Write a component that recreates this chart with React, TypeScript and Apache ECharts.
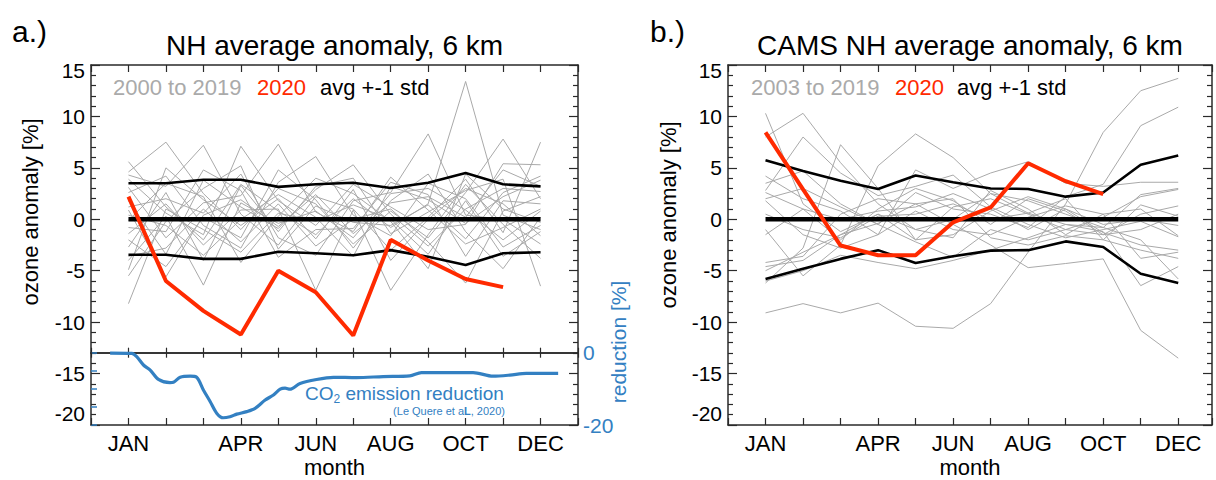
import React, { useEffect, useRef } from "react";
import * as echarts from "echarts";

const FONT = "'Liberation Sans', Arial, Helvetica, sans-serif";
const GRAY = "#a9a9a9";
const RED = "#ff2a00";
const BLUE = "#3380c2";
const FRAME = "#2a2a2a";

const months = [1, 2, 3, 4, 5, 6, 7, 8, 9, 10, 11, 12];
const monthLabelPos = [1, 4, 6, 8, 10, 12];
const monthLabels = ["JAN", "APR", "JUN", "AUG", "OCT", "DEC"];
const yMajorTicks = [-20, -15, -10, -5, 0, 5, 10, 15];

// ---- a.) NH average anomaly, 6 km (2000-2019 years)
const leftYears = [
  [5.6, 1.2, -2.0, 3.4, 0.8, -1.5, 2.0, -0.8, 1.5, 13.4, 0.4, -1.0],
  [4.6, 7.5, 2.5, -1.0, 3.0, 1.5, -2.4, 0.8, -1.8, 2.6, 7.8, 2.0],
  [4.3, 3.2, 7.2, 0.5, -2.5, 2.2, 1.0, -3.0, 0.2, 3.9, -1.3, 7.5],
  [3.9, 0.6, -1.5, 7.1, 1.8, -0.6, 3.4, 1.2, -1.0, -0.5, 5.4, 5.3],
  [3.1, -1.8, 1.6, 2.3, 7.3, 0.7, -1.2, 4.1, 0.9, -2.4, -0.8, 1.0],
  [2.6, 4.2, -0.6, -2.8, 3.6, 6.1, 0.4, -1.6, 3.5, 2.0, -2.7, -0.6],
  [1.8, -3.4, 3.8, 1.2, -0.9, 2.9, 5.3, 0.5, -2.6, 1.0, 3.0, 2.7],
  [1.2, 2.0, 0.6, 4.4, -1.8, -3.5, 1.8, 2.6, 8.3, 0.4, 0.0, -2.4],
  [0.4, -0.6, -3.5, 0.0, 2.4, 0.2, -3.6, 3.2, 1.9, -0.4, 2.2, 3.8],
  [-0.1, 3.5, 2.2, -4.2, 0.3, 4.0, 2.5, -0.2, -4.8, 4.4, 1.0, -0.3],
  [-0.8, -1.2, 4.8, 2.8, -3.7, -1.0, -0.9, 3.6, 2.4, -3.6, 1.8, 1.5],
  [-1.4, 1.5, -2.5, 0.9, 1.0, -6.9, 0.9, -6.9, -1.5, 3.4, -0.5, -3.8],
  [-2.0, -4.6, 0.2, -1.8, 4.8, 1.9, -2.8, 1.8, 4.4, -1.2, -4.8, 0.2],
  [-2.7, 2.6, -4.0, 3.3, -1.2, 3.2, 4.0, -1.4, 0.7, 2.8, 3.9, -6.5],
  [-3.6, -2.8, 1.0, -2.2, 1.5, -2.6, 0.0, 1.0, -2.2, -6.2, 0.8, 2.2],
  [-4.0, 0.3, -6.4, 1.6, -0.4, 0.8, -1.8, 2.5, 3.0, 0.9, -2.0, 0.8],
  [-4.9, 5.0, 1.9, -0.6, 2.0, -1.9, 2.9, -4.0, 0.0, 3.0, 1.5, -1.6],
  [-5.5, -0.2, 3.0, 5.2, -2.9, 1.3, -0.3, -0.6, 1.4, -1.9, 2.6, 4.2],
  [-8.2, 1.0, -1.0, -3.2, 0.6, -0.2, 1.4, 0.0, -3.4, 1.8, -3.6, -1.2],
  [0.9, -5.6, 0.4, 1.9, -0.7, 2.4, -1.4, 1.6, 2.2, 0.2, 4.8, 3.2],
];
const leftStdUp = [3.5, 3.5, 3.85, 3.85, 3.15, 3.4, 3.55, 3.05, 3.55, 4.5, 3.4, 3.2];
const leftStdLow = [-3.45, -3.45, -3.85, -3.85, -3.15, -3.3, -3.5, -3.0, -3.65, -4.45, -3.3, -3.2];
const leftAvg = [0, 0, 0, 0, 0, 0, 0, 0, 0, 0, 0, 0];
const left2020 = [2.2, -6.0, -8.9, -11.2, -5.0, -7.1, -11.3, -2.0, -4.0, -5.8, -6.6];

// CO2 emission reduction (Le Quere et al., 2020), daily curve sampled
const coMonth = [0.51, 1.09, 1.22, 1.4, 1.58, 1.8, 2.11, 2.2, 2.38, 2.65, 2.82, 3.0, 3.18, 3.36, 3.53, 3.71, 3.89, 4.16, 4.38, 4.65, 4.87, 5.05, 5.18, 5.31, 5.58, 6.02, 6.47, 7.09, 7.8, 8.51, 8.82, 9.31, 10.2, 10.73, 11.18, 11.62, 12.47];
const coValue = [-0.1, -0.2, -1.1, -3.4, -4.8, -7.4, -8.3, -8.2, -6.8, -6.5, -6.8, -10.3, -13.5, -16.8, -18.0, -17.7, -17.0, -16.3, -15.4, -13.1, -11.7, -10.1, -9.8, -10.1, -8.5, -7.4, -6.8, -6.9, -6.6, -6.4, -5.5, -5.5, -5.5, -6.5, -6.2, -5.7, -5.7];

// ---- b.) CAMS NH average anomaly, 6 km (2003-2019 years)
const rightYears = [
  [-9.1, -8.2, -9.1, -8.15, -10.4, -10.6, -8.2, -3.2, 1.5, 8.45, 12.5, 13.7],
  [2.0, 3.0, 1.2, -0.5, 2.6, 1.0, 0.5, -0.8, 2.2, 3.4, 9.1, 10.9],
  [-4.2, -3.6, 0.5, 2.0, 1.5, -0.5, -2.5, -4.7, -4.3, -3.85, -10.8, -13.5],
  [10.3, 1.5, -1.2, 0.5, -2.0, 1.2, 2.0, 0.5, -1.0, -1.5, 0.5, 1.3],
  [8.0, 10.3, 5.5, 1.5, -1.0, 0.0, 2.5, 1.8, 0.5, -0.8, 2.4, 3.0],
  [2.8, 8.0, 4.5, 2.3, 3.2, 4.3, 1.2, -0.5, -1.8, -1.0, -0.2, -1.7],
  [-6.2, -2.8, 7.25, 3.0, -2.0, -1.5, 0.8, 2.2, 1.0, -1.3, -2.5, -3.0],
  [-1.0, -5.5, -2.5, 5.2, 8.3, 6.0, 2.5, 0.6, -0.5, -1.2, -6.45, -4.6],
  [4.2, 2.0, 0.8, -1.5, 4.8, 3.0, 4.5, 5.6, 3.5, 3.2, 3.6, 3.6],
  [3.5, 4.7, 1.5, -0.5, -2.2, -3.7, -1.0, -2.0, -1.0, 0.2, 2.2, 2.9],
  [-4.6, -4.0, -1.5, -0.4, 1.5, 2.0, -1.8, -2.5, -1.6, -2.0, -3.0, -3.8],
  [2.6, 1.0, -2.0, 1.0, 3.0, 1.8, -0.5, 2.0, 0.8, -1.5, -1.0, 0.5],
  [-6.0, -5.0, -3.5, -4.2, -4.8, -4.0, -3.0, -1.8, -0.5, -0.8, -2.0, -5.8],
  [1.8, -1.5, -2.8, -1.5, 0.8, -1.0, -1.5, 0.2, 1.3, 0.5, 1.0, -1.6],
  [-1.5, 1.0, 0.0, 0.8, 1.2, 2.5, 1.0, -1.0, 1.0, -0.5, 0.0, -0.6],
  [-5.0, -3.2, -1.5, 0.5, -1.0, -1.8, 2.8, 1.0, -1.5, 0.5, -3.8, -3.2],
  [0.5, -1.0, -1.8, 0.3, 0.5, 1.5, 0.0, 0.6, 2.0, -2.0, 1.4, 0.3],
];
const rightStdUp = [5.75, 4.7, 3.75, 2.95, 4.25, 3.6, 3.0, 2.95, 2.2, 2.6, 5.3, 6.2];
const rightStdLow = [-5.8, -4.8, -3.85, -3.0, -4.25, -3.6, -3.05, -3.0, -2.15, -2.7, -5.3, -6.2];
const rightAvg = [0, 0, 0, 0, 0, 0, 0, 0, 0, 0, 0, 0];
const right2020 = [8.45, 2.9, -2.55, -3.5, -3.5, -0.3, 1.15, 5.45, 3.7, 2.45];

const pairs = (vals: number[]) => vals.map((v, i) => [months[i], v]);

const monthFmt = (v: number) => {
  const k = monthLabelPos.indexOf(v);
  return k >= 0 ? monthLabels[k] : "";
};
const yFmt = (v: number) => {
  if (yMajorTicks.indexOf(v) < 0) return "";
  if (v === -20) return "{lo|-20}";
  if (v === 15) return "{hi|15}";
  return String(v);
};
const yRich = {
  lo: { fontSize: 21, fontFamily: FONT, color: "#000", padding: [0, 0, 24, 0] },
  hi: { fontSize: 21, fontFamily: FONT, color: "#000", padding: [10, 0, 0, 0] },
};

function xAxisDef(gridIndex: number, max: number, position: string, labels: boolean, tickLen: number) {
  return {
    type: "value",
    gridIndex,
    min: 0,
    max,
    interval: 1,
    position,
    axisLine: { show: true, onZero: false, lineStyle: { color: FRAME, width: 1.5 } },
    axisTick: { show: true, inside: true, length: tickLen, lineStyle: { color: FRAME, width: 1.2 } },
    axisLabel: labels
      ? { show: true, formatter: monthFmt, fontSize: 22, fontFamily: FONT, color: "#000", margin: 7 }
      : { show: false },
    splitLine: { show: false },
  };
}

function yAxisDef(gridIndex: number, position: string, labels: boolean) {
  return {
    type: "value",
    gridIndex,
    min: -20,
    max: 15,
    interval: 5,
    position,
    axisLine: { show: true, onZero: false, lineStyle: { color: FRAME, width: 1.5 } },
    axisTick: { show: true, inside: true, length: 9, lineStyle: { color: FRAME, width: 1.2 } },
    minorTick: { show: true, splitNumber: 5, length: 5, lineStyle: { color: FRAME, width: 1.2 } },
    axisLabel: labels
      ? { show: true, formatter: yFmt, rich: yRich, fontSize: 21, fontFamily: FONT, color: "#000", margin: 6 }
      : { show: false },
    splitLine: { show: false },
  };
}

function lineSeries(data: any[], xi: number, yi: number, color: string, width: number, z: number) {
  return {
    type: "line",
    xAxisIndex: xi,
    yAxisIndex: yi,
    data,
    symbol: "none",
    silent: true,
    z,
    lineStyle: { color, width },
  };
}

function txt(x: number, y: number, text: string, size: number, color: string, align = "left", rotation = 0, weight = "normal") {
  return {
    type: "text",
    x,
    y,
    rotation,
    silent: true,
    style: {
      text,
      fontSize: size,
      fontFamily: FONT,
      fontWeight: weight,
      fill: color,
      textAlign: align,
      textVerticalAlign: "middle",
    },
  };
}

export default function App() {
  const ref = useRef<HTMLDivElement>(null);
  useEffect(() => {
    if (!ref.current) return;
    const chart = echarts.init(ref.current, null, { renderer: "svg" });
    const series: any[] = [];
    leftYears.forEach((yr) => series.push(lineSeries(pairs(yr), 0, 0, GRAY, 1, 2)));
    series.push(lineSeries(pairs(leftStdUp), 0, 0, "#000", 2.6, 3));
    series.push(lineSeries(pairs(leftStdLow), 0, 0, "#000", 2.6, 3));
    series.push(lineSeries(pairs(leftAvg), 0, 0, "#000", 4.5, 4));
    series.push(lineSeries(pairs(left2020), 0, 0, RED, 4, 5));
    series.push({
      ...lineSeries(coMonth.map((m, i) => [m, coValue[i]]), 3, 3, BLUE, 3.2, 5),
      smooth: 0.3,
    });
    rightYears.forEach((yr) => series.push(lineSeries(pairs(yr), 4, 4, GRAY, 1, 2)));
    series.push(lineSeries(pairs(rightStdUp), 4, 4, "#000", 2.6, 3));
    series.push(lineSeries(pairs(rightStdLow), 4, 4, "#000", 2.6, 3));
    series.push(lineSeries(pairs(rightAvg), 4, 4, "#000", 4.5, 4));
    series.push(lineSeries(pairs(right2020), 4, 4, RED, 4, 5));

    const option: any = {
      animation: false,
      backgroundColor: "#fff",
      grid: [
        { left: 91, top: 65, width: 487, height: 360 }, // 0 left ozone
        { left: 91, top: 352.7, width: 487, height: 72.3 }, // 1 CO2
        { left: 91, top: 65, width: 487, height: 287.7 }, // 2 separator
        { left: 728, top: 65, width: 484, height: 360 }, // 3 right ozone
      ],
      xAxis: [
        xAxisDef(0, 13, "bottom", true, 7),
        xAxisDef(0, 13, "top", false, 7),
        xAxisDef(2, 13, "bottom", false, 5),
        xAxisDef(1, 13, "top", false, 5),
        xAxisDef(3, 12.9, "bottom", true, 7),
        xAxisDef(3, 12.9, "top", false, 7),
      ],
      yAxis: [
        yAxisDef(0, "left", true),
        yAxisDef(0, "right", false),
        { type: "value", gridIndex: 2, min: -13, max: 15, show: false },
        {
          type: "value",
          gridIndex: 1,
          min: -20,
          max: 0,
          interval: 5,
          position: "right",
          axisLine: { show: false },
          axisTick: { show: true, inside: false, length: 6, lineStyle: { color: BLUE, width: 1.5 } },
          axisLabel: {
            show: true,
            formatter: (v: number) => (v === 0 || v === -20 ? String(v) : ""),
            fontSize: 21,
            fontFamily: FONT,
            color: BLUE,
            margin: 5,
          },
          splitLine: { show: false },
        },
        yAxisDef(3, "left", true),
        yAxisDef(3, "right", false),
      ],
      series,
      graphic: [
        txt(12, 31, "a.)", 30, "#000"),
        txt(650, 31, "b.)", 30, "#000"),
        txt(334.5, 45, "NH average anomaly, 6 km", 28, "#000", "center"),
        txt(970, 45, "CAMS NH average anomaly, 6 km", 28, "#000", "center"),
        txt(113, 87, "2000 to 2019", 22, "#aaaaaa"),
        txt(257, 87, "2020", 22, RED),
        txt(320, 87, "avg +-1 std", 22, "#000"),
        txt(751, 87, "2003 to 2019", 22, "#aaaaaa"),
        txt(895, 87, "2020", 22, RED),
        txt(957, 87, "avg +-1 std", 22, "#000"),
        txt(30, 212, "ozone anomaly [%]", 22, "#000", "center", Math.PI / 2),
        txt(668, 215, "ozone anomaly [%]", 22, "#000", "center", Math.PI / 2),
        txt(334.5, 467, "month", 22, "#000", "center"),
        txt(970, 467, "month", 22, "#000", "center"),
        txt(305, 393, "CO", 19, BLUE),
        txt(333.5, 399, "2", 12, BLUE),
        txt(340.2, 393, " emission reduction", 19, BLUE),
        {
          type: "text",
          x: 505,
          y: 411,
          silent: true,
          style: {
            text: "(Le Quere et a{b|L}, 2020)",
            fontSize: 11,
            fontFamily: FONT,
            fill: BLUE,
            textAlign: "right",
            textVerticalAlign: "middle",
            rich: { b: { fontSize: 11, fontFamily: FONT, fontWeight: "bold", fill: BLUE } },
          },
        },
        txt(618, 342, "reduction [%]", 21, BLUE, "center", Math.PI / 2),
      ],
    };
    chart.setOption(option);
    return () => chart.dispose();
  }, []);
  return (
    <div
      ref={ref}
      style={{ position: "absolute", left: 0, top: 0, width: 1216, height: 480 }}
    />
  );
}
